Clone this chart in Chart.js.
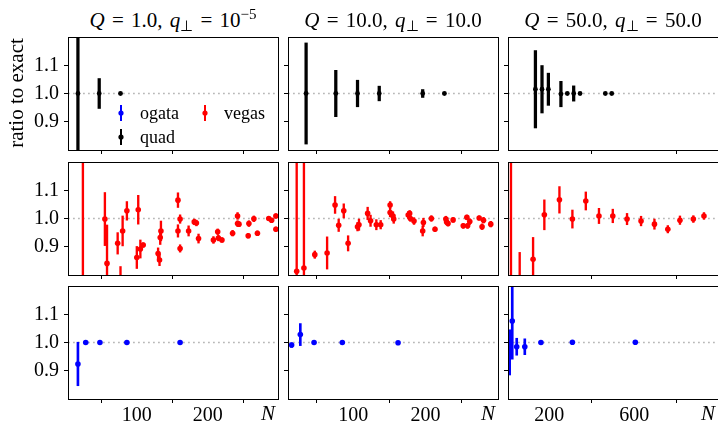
<!DOCTYPE html>
<html>
<head>
<meta charset="utf-8">
<script src="https://cdn.jsdelivr.net/npm/chart.js@4/dist/chart.umd.min.js"></script>
<style>
  html, body { margin: 0; padding: 0; background: #fff; overflow: hidden; }
  body { width: 718px; height: 425px; position: relative; font-family: "Liberation Serif", serif; color: #000; }
  canvas { position: absolute; }
  .title { position: absolute; text-align: center; font-size: 21px; line-height: 20px; white-space: nowrap; word-spacing: 2px; }
  .title sup, .title sub { font-size: 15px; line-height: 0; position: relative; vertical-align: baseline; }
  .title sup { top: -8px; }
  .title sub { top: 4px; }
  .xlab { position: absolute; font-size: 21px; font-style: italic; line-height: 20px; text-align: right; }
  .ylab { position: absolute; font-size: 21px; line-height: 20px; text-align: center; transform: rotate(-90deg); white-space: nowrap; }
</style>
</head>
<body>
<script>
// ---- data: N, ratio to exact, error ----
// row 1: quad
const quadN1 = [17, 47, 77];
const quadR1 = [1.0, 1.0, 1.0];
const quadE1 = [0.5, 0.053, 0.003];
const quadN2 = [35, 76, 106, 136, 196, 226];
const quadR2 = [1.0, 1.0, 1.0, 1.0, 1.0, 1.0];
const quadE2 = [0.179, 0.082, 0.047, 0.026, 0.014, 0.004];
const quadN3 = [135, 166, 196, 255, 285, 315, 345, 464, 494];
const quadR3 = [1.015, 1.015, 1.015, 0.998, 1.0, 1.0, 1.0, 1.0, 1.0];
const quadE3 = [0.137, 0.084, 0.057, 0.045, 0.003, 0.027, 0.003, 0.002, 0.002];

// row 2: vegas
const vegasN1 = [24, 55, 58, 73, 77, 80, 86, 100, 102, 105, 109, 130, 132, 133, 134, 158, 161, 158, 161, 173,
  181, 184, 187, 208, 214, 215, 220, 235, 242, 242, 244, 257, 258, 265, 270, 286, 290, 296, 296];
const vegasR1 = [0.75, 0.998, 0.841, 0.912, 0.77, 0.956, 1.027, 0.862, 1.031, 0.892, 0.906, 0.876, 0.853, 0.933, 0.956, 1.065, 0.998, 0.956, 0.894, 0.956,
  0.988, 0.984, 0.929, 0.924, 0.953, 0.931, 0.924, 0.948, 1.009, 0.982, 0.98, 0.939, 0.982, 0.999, 0.948, 1.0, 0.994, 1.009, 0.962];
const vegasE1 = [0.6, 0.094, 0.136, 0.038, 0.06, 0.053, 0.033, 0.039, 0.051, 0.032, 0.008, 0.02, 0.02, 0.025, 0.035, 0.026, 0.015, 0.022, 0.013, 0.018,
  0.01, 0.01, 0.016, 0.012, 0.01, 0.01, 0.008, 0.01, 0.012, 0.01, 0.008, 0.008, 0.01, 0.01, 0.008, 0.005, 0.007, 0.008, 0.008];
const vegasN2 = [22, 32, 47, 64, 75, 80, 87, 93, 106, 108, 120, 124, 132, 138, 151, 151, 155, 156, 176, 178,
  179, 184, 196, 197, 208, 213, 228, 229, 231, 238, 252, 257, 258, 261, 274, 278, 280, 290];
const vegasR2 = [0.813, 0.825, 0.872, 0.878, 1.048, 0.976, 1.027, 0.912, 0.971, 0.978, 1.018, 0.992, 0.978, 0.978, 1.048, 1.021, 1.009, 0.998, 1.012, 1.018,
  1.0, 0.991, 0.956, 0.986, 1.0, 0.962, 0.998, 0.988, 0.982, 0.995, 0.974, 1.004, 0.974, 0.989, 1.002, 0.971, 0.994, 0.98];
const vegasE2 = [0.45, 0.45, 0.013, 0.057, 0.03, 0.022, 0.025, 0.027, 0.015, 0.02, 0.022, 0.02, 0.018, 0.015, 0.012, 0.015, 0.015, 0.015, 0.012, 0.01,
  0.01, 0.012, 0.018, 0.015, 0.01, 0.008, 0.01, 0.01, 0.008, 0.008, 0.008, 0.008, 0.008, 0.01, 0.007, 0.01, 0.01, 0.01];
const vegasN3 = [20, 61, 124, 177, 248, 309, 372, 434, 499, 566, 632, 695, 758, 815, 878, 928];
const vegasR3 = [0.7, 0.78, 0.856, 1.013, 1.066, 0.998, 1.062, 1.009, 1.009, 0.998, 0.991, 0.98, 0.962, 0.994, 0.998, 1.009];
const vegasE3 = [0.6, 0.1, 0.077, 0.053, 0.047, 0.032, 0.032, 0.027, 0.024, 0.02, 0.017, 0.018, 0.013, 0.015, 0.012, 0.012];

// row 3: ogata
const ogataN1 = [17, 28, 48, 86, 161];
const ogataR1 = [0.924, 1.0, 1.0, 1.0, 1.0];
const ogataE1 = [0.077, 0.002, 0.001, 0.001, 0.001];
const ogataN2 = [15, 27, 46, 85, 162];
const ogataR2 = [0.991, 1.028, 1.0, 1.0, 0.999];
const ogataE2 = [0.008, 0.039, 0.002, 0.002, 0.002];
const ogataN3 = [14, 26, 47, 85, 161, 309, 605];
const ogataR3 = [0.965, 1.076, 0.985, 0.985, 1.0, 1.001, 1.001];
const ogataE3 = [0.08, 0.135, 0.03, 0.028, 0.002, 0.002, 0.002];

// axes
const titles = ['<i>Q</i> = 1.0, <i>q</i><sub>⊥</sub> = 10<sup>−5</sup>',
                '<i>Q</i> = 10.0, <i>q</i><sub>⊥</sub> = 10.0',
                '<i>Q</i> = 50.0, <i>q</i><sub>⊥</sub> = 50.0'];
const xMin = [3, 10, 6];
const xMax = [299, 300, 994];
const xTicks = [[100, 200], [100, 200], [200, 600]];
const yTicks = [0.9, 1.0, 1.1];
const seriesNames = ['quad', 'vegas', 'ogata'];
const seriesColors = ['#000000', '#ff0000', '#0000ff'];

const series = [
  [[quadN1, quadR1, quadE1], [quadN2, quadR2, quadE2], [quadN3, quadR3, quadE3]],
  [[vegasN1, vegasR1, vegasE1], [vegasN2, vegasR2, vegasE2], [vegasN3, vegasR3, vegasE3]],
  [[ogataN1, ogataR1, ogataE1], [ogataN2, ogataR2, ogataE2], [ogataN3, ogataR3, ogataE3]]
];

// ---- layout ----
const colLeft = [68, 288, 508];
const rowTop = [37, 162, 286];
const W = 210, H = 113;
const barW = [2.6, 1.7, 2];
const dotR = [2.4, 2.8, 2.8];

Chart.defaults.font.family = '"Liberation Serif", serif';
Chart.defaults.color = '#000';

const framePlugin = {
  id: 'frame',
  afterDatasetsDraw(chart) {
    const a = chart.chartArea, c = chart.ctx;
    c.save();
    c.strokeStyle = '#000';
    c.lineWidth = 1;
    c.strokeRect(Math.round(a.left) + 0.5, Math.round(a.top) + 0.5,
      Math.round(a.right - a.left), Math.round(a.bottom - a.top));
    c.restore();
  }
};

// legend inside the top-left panel
const legendPlugin = {
  id: 'legendBox',
  afterDraw(chart) {
    const a = chart.chartArea, c = chart.ctx;
    const items = [
      { name: seriesNames[2], color: seriesColors[2], dx: 53, dy: 76 },
      { name: seriesNames[1], color: seriesColors[1], dx: 137, dy: 76 },
      { name: seriesNames[0], color: seriesColors[0], dx: 53, dy: 100 }
    ];
    c.save();
    c.font = '18px "Liberation Serif", serif';
    c.textBaseline = 'middle';
    items.forEach(it => {
      const x = a.left + it.dx, y = a.top + it.dy;
      c.strokeStyle = it.color;
      c.lineWidth = 2;
      c.beginPath(); c.moveTo(x, y - 8); c.lineTo(x, y + 8); c.stroke();
      c.fillStyle = it.color;
      c.beginPath(); c.arc(x, y, 2.6, 0, Math.PI * 2); c.fill();
      c.fillStyle = '#000';
      c.fillText(it.name, x + 19, y + 1);
    });
    c.restore();
  }
};

function makePanel(row, col) {
  const [n, r, e] = series[row][col];
  const color = seriesColors[row];
  const yw = 50, xh = 28, pt = 4, pr = 4;
  const cv = document.createElement('canvas');
  cv.width = yw + W + pr;
  cv.height = pt + H + xh;
  cv.style.left = (colLeft[col] - yw) + 'px';
  cv.style.top = (rowTop[row] - pt) + 'px';
  document.body.appendChild(cv);

  new Chart(cv.getContext('2d'), {
    type: 'scatter',
    data: {
      datasets: [
        {
          type: 'line', showLine: true,
          data: [{ x: xMin[col], y: 1 }, { x: xMax[col], y: 1 }],
          borderColor: '#b8b8b8', borderWidth: 1.6, borderDash: [1.8, 3.2],
          pointRadius: 0, order: 3
        },
        {
          type: 'bar',
          data: n.map((v, i) => ({ x: v, y: [r[i] - e[i], r[i] + e[i]] })),
          backgroundColor: color, borderWidth: 0,
          barThickness: barW[row], grouped: false, order: 2
        },
        {
          type: 'scatter',
          data: n.map((v, i) => ({ x: v, y: r[i] })),
          backgroundColor: color, pointRadius: dotR[row], borderWidth: 0,
          clip: 0, order: 1
        }
      ]
    },
    options: {
      responsive: false,
      animation: false,
      events: [],
      layout: { padding: { left: 0, top: pt, right: pr, bottom: 0 } },
      plugins: { legend: { display: false }, tooltip: { enabled: false } },
      scales: {
        x: {
          type: 'linear', min: xMin[col], max: xMax[col], offset: false,
          afterBuildTicks: s => { s.ticks = xTicks[col].map(v => ({ value: v })); },
          afterFit: s => { s.height = xh; s.paddingLeft = 0; s.paddingRight = 0; },
          grid: { display: true, drawOnChartArea: false, drawTicks: true, tickLength: 4, tickColor: '#000' },
          border: { display: true, color: '#000', width: 1 },
          ticks: { display: row === 2, padding: 1, font: { size: 20 }, maxRotation: 0, autoSkip: false }
        },
        y: {
          type: 'linear', min: 0.8, max: 1.2,
          afterBuildTicks: s => { s.ticks = yTicks.map(v => ({ value: v })); },
          afterFit: s => { s.width = yw; s.paddingTop = 0; s.paddingBottom = 0; },
          grid: { display: true, drawOnChartArea: false, drawTicks: true, tickLength: 4, tickColor: '#000' },
          border: { display: true, color: '#000', width: 1 },
          ticks: { display: col === 0, padding: 5, font: { size: 20 }, callback: v => v.toFixed(1) }
        }
      }
    },
    plugins: row === 0 && col === 0 ? [framePlugin, legendPlugin] : [framePlugin]
  });
}

for (let row = 0; row < 3; row++) {
  for (let col = 0; col < 3; col++) makePanel(row, col);
}

// titles, axis labels
titles.forEach((t, col) => {
  const d = document.createElement('div');
  d.className = 'title';
  d.style.left = colLeft[col] + 'px';
  d.style.width = W + 'px';
  d.style.top = '10px';
  d.innerHTML = t;
  document.body.appendChild(d);
});
colLeft.forEach(L => {
  const d = document.createElement('div');
  d.className = 'xlab';
  d.style.left = (L + W - 40) + 'px';
  d.style.width = '37px';
  d.style.top = '403px';
  d.textContent = 'N';
  document.body.appendChild(d);
});
const yl = document.createElement('div');
yl.className = 'ylab';
yl.style.left = '-59px';
yl.style.top = '83px';
yl.style.width = '150px';
yl.textContent = 'ratio to exact';
document.body.appendChild(yl);
</script>
</body>
</html>
